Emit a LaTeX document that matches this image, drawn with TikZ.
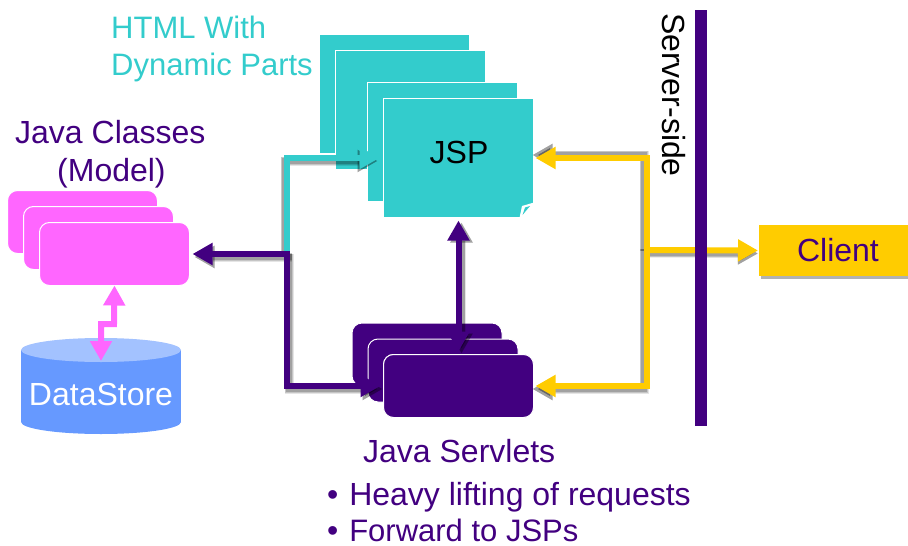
\documentclass[tikz,border=0pt]{standalone}
\usepackage{fontspec}
\setmainfont{Liberation Sans}
\usetikzlibrary{arrows.meta}
\definecolor{tealc}{HTML}{33CCCC}
\definecolor{plum}{HTML}{420080}
\definecolor{pinkc}{HTML}{FF66FF}
\definecolor{goldc}{HTML}{FFCC00}
\definecolor{bluec}{HTML}{6699FF}
\definecolor{bluetop}{HTML}{A3C2FF}
\tikzset{
  page/.style={rectangle, draw=white, line width=1pt, fill=tealc, minimum width=150pt, minimum height=119pt, inner sep=0pt, outer sep=0pt},
  card/.style={rectangle, rounded corners=10pt, draw=white, line width=1pt, minimum width=150pt, minimum height=63pt, inner sep=0pt, outer sep=0pt},
  wire/.style={line width=6pt, line cap=butt, line join=miter},
  headed/.style={-{Triangle[length=20pt,width=21pt]}},
  twohead/.style={{Triangle[length=20pt,width=21pt]}-{Triangle[length=20pt,width=21pt]}},
  caption/.style={anchor=base west, inner sep=0pt, font=\fontsize{32}{38}\selectfont},
  smallcaption/.style={anchor=base west, inner sep=0pt, font=\fontsize{31}{37}\selectfont}
}
% Soft grey copies of a connector: offset, options, path
\newcommand{\wireshade}[3]{
  \foreach \wd/\op in {9pt/0.10, 7.5pt/0.14, 6pt/0.18} {
    \draw [wire, #2, black, opacity=\op, line width=\wd, transform canvas={shift={(#1)}}] #3;
  }
}
\begin{document}
\begin{tikzpicture}[x=1pt,y=-1pt]
  \useasboundingbox (0,0) rectangle (908,546);
  % The pages behind the JSP
  \foreach \nm/\px/\py in {jspa/394.5/94, jspb/410.5/110, jspc/442.5/142} {
    \node (\nm) [page] at (\px,\py) {};
  }
  % Cards behind the model and the servlet
  \foreach \nm/\px/\py/\col in {
    modela/82.5/222/pinkc,
    modelb/98.5/238/pinkc,
    servleta/427/354.5/plum,
    servletb/443/370.5/plum} {
    \node (\nm) [card, fill=\col] at (\px,\py) {};
  }
  \coordinate (teal hub) at (287,252);
  \coordinate (plum hub) at (287,254);
  \coordinate (gold hub) at (647,250);
  \node (jsp) [page] at (458.5,158) {};
  \node (servlet) [card, fill=plum] at (458.5,386) {};
  \node (model) [card, fill=pinkc] at (114.5,254) {};
  % The connector into the JSP runs under its top page
  \wireshade{-2pt,-3pt}{headed, shorten >=4pt}{(teal hub) |- (jsp.west)}
  \draw [wire, tealc, headed, shorten >=4pt] (teal hub) |- (jsp.west);
  \node (jsptop) [page] at (458.5,158) {};
  \node (jsplabel) [font=\fontsize{32}{38}\selectfont] at (459,152.5) {JSP};
  % The turned corner of the top page
  \fill [white] (519.5,218) -- (522,206) -- (534,202.5) -- (534,218) -- cycle;
  \fill [tealc] (522.5,215) -- (525,207.5) -- (530,206) -- cycle;
  % Connectors from the servlet
  \wireshade{2pt,-3pt}{headed, shorten >=3pt, shorten <=-3pt}{(plum hub) -- (model.east)}
  \wireshade{2pt,-3pt}{headed, shorten >=3pt, shorten <=-3pt}{(plum hub) |- (servlet.west)}
  \wireshade{3pt,-2pt}{twohead, shorten >=3pt, shorten <=3pt}{(servlet.north) -- (jsptop.south)}
  \draw [wire, plum, headed, shorten >=3pt, shorten <=-3pt] (plum hub) -- (model.east);
  \draw [wire, plum, headed, shorten >=3pt, shorten <=-3pt] (plum hub) |- (servlet.west);
  \draw [wire, plum, twohead, shorten >=3pt, shorten <=3pt] (servlet.north) -- (jsptop.south);
  \node (servlettop) [card, fill=plum] at (458.5,386) {};
  % The client box
  \node (client) [fill=goldc, minimum width=150pt, minimum height=51pt, inner sep=0pt, outer sep=0pt,
    preaction={fill=black, fill opacity=0.3, transform canvas={shift={(2pt,-3pt)}}},
    text=plum, font=\fontsize{32}{38}\selectfont] at (834,250.5) {\hspace{8pt}Client};
  % Connectors from the client
  \wireshade{-3pt,3pt}{headed, shorten >=2pt, shorten <=-4pt}{(gold hub) |- (jsptop.east)}
  \wireshade{-3pt,-3pt}{headed, shorten >=2pt, shorten <=-4pt}{(gold hub) |- (servlettop.east)}
  \wireshade{0pt,-3pt}{headed, shorten >=1pt}{(gold hub) -- (client.west)}
  \draw [wire, goldc, headed, shorten >=2pt] (gold hub) |- (jsptop.east);
  \draw [wire, goldc, headed, shorten >=2pt] (gold hub) |- (servlettop.east);
  \draw [wire, goldc, headed, shorten >=1pt] (gold hub) -- (client.west);
  % The data store: body, then both ends
  \fill [bluec] (101,422) ellipse [x radius=80pt, y radius=12pt];
  \node (store) [fill=bluec, minimum width=160pt, minimum height=72pt, inner sep=0pt, outer sep=0pt] at (101,386) {};
  \fill [bluetop] (101,350) ellipse [x radius=80pt, y radius=12pt];
  \node (storetext) [text=white, font=\fontsize{32}{38}\selectfont] at (101,394.5) {DataStore};
  \coordinate (pink top) at (114,324);
  \coordinate (pink low) at (101,324);
  \coordinate (pink tip) at (101,362);
  \draw [wire, pinkc, twohead, shorten >=1pt] (model.south) -- (pink top) -- (pink low) -- (pink tip);
  % The bar and its label
  \node (bar) [fill=plum, minimum width=12pt, minimum height=416pt, inner sep=0pt] at (701,218) {};
  \node (sidelabel) [rotate=-90, font=\fontsize{32}{38}\selectfont] at (674,95) {Server-side};
  % Captions
  \node (htmla) [smallcaption, text=tealc] at (111,38) {HTML With};
  \node (htmlb) [smallcaption, text=tealc] at (111,75) {Dynamic Parts};
  \node (classes) [caption, text=plum] at (15,143) {Java Classes};
  \node (modellab) [caption, text=plum] at (57,181) {(Model)};
  \node (servlets) [caption, text=plum] at (363,462) {Java Servlets};
  \node (pointa) [caption, text=plum] at (327,505) {\textbullet\hspace{2pt} Heavy lifting of requests};
  \node (pointb) [smallcaption, text=plum] at (327,541) {\fontsize{32}{38}\selectfont\textbullet\hspace{2pt} \fontsize{31}{37}\selectfont Forward to JSPs};
\end{tikzpicture}
\end{document}
